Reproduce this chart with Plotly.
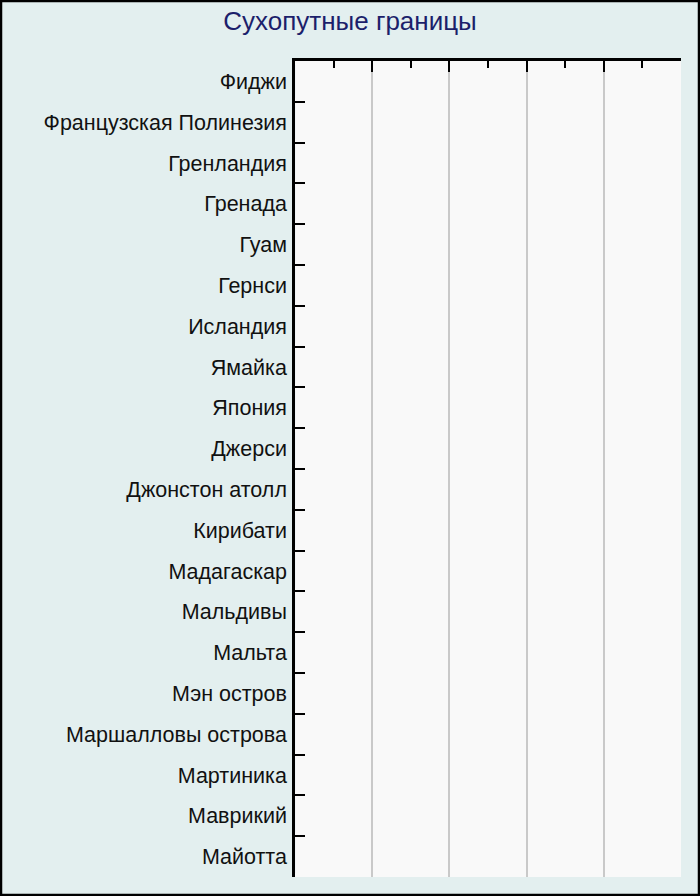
import plotly.graph_objects as go

# Сухопутные границы (км) - у островных государств и территорий их нет
countries = [
    "Фиджи", "Французская Полинезия", "Гренландия", "Гренада", "Гуам",
    "Гернси", "Исландия", "Ямайка", "Япония", "Джерси",
    "Джонстон атолл", "Кирибати", "Мадагаскар", "Мальдивы", "Мальта",
    "Мэн остров", "Маршалловы острова", "Мартиника", "Маврикий", "Майотта",
]
land_borders_km = [0, 0, 0, 0, 0, 0, 0, 0, 0, 0,
                   0, 0, 0, 0, 0, 0, 0, 0, 0, 0]

W, H = 700, 896
L, R, T, B = 295, 19, 61, 19
pw, ph = W - L - R, H - T - B

fig = go.Figure()
fig.add_trace(go.Bar(
    x=land_borders_km,
    y=countries,
    orientation="h",
    marker_color="#3a5fcd",
    hoverinfo="x+y",
))

fig.update_layout(
    width=W,
    height=H,
    margin=dict(l=L, r=R, t=T, b=B),
    paper_bgcolor="#e3efef",
    plot_bgcolor="#f9f9f9",
    showlegend=False,
    title=dict(
        text="Сухопутные границы",
        x=0.5,
        xanchor="center",
        y=1 - 21 / H,
        yanchor="middle",
        font=dict(family="Liberation Sans, Arial", size=26, color="#1c1f6b"),
    ),
    font=dict(family="Liberation Sans, Arial", size=21.5, color="#111111"),
)

fig.update_xaxes(
    range=[0, 5],
    dtick=1,
    side="top",
    showticklabels=False,
    showgrid=True,
    gridcolor="#c9c9c9",
    gridwidth=1.5,
    zeroline=False,
    showline=True,
    linecolor="black",
    linewidth=2.5,
    ticks="inside",
    ticklen=11,
    tickwidth=2,
    tickcolor="black",
    minor=dict(dtick=0.5, ticks="inside", ticklen=7, tickwidth=2,
               tickcolor="black", showgrid=False),
    fixedrange=True,
)

fig.update_yaxes(
    autorange="reversed",
    tickson="boundaries",
    ticks="inside",
    ticklen=10,
    tickwidth=2,
    tickcolor="black",
    showline=True,
    linecolor="black",
    linewidth=2.5,
    showgrid=False,
    ticklabelstandoff=1,
    fixedrange=True,
)

# чёрная рамка вокруг всего рисунка
fig.add_shape(
    type="rect",
    xref="paper", yref="paper",
    x0=-(L - 1) / pw, x1=(pw + R - 1) / pw,
    y0=-(B - 1) / ph, y1=(ph + T - 1) / ph,
    line=dict(color="black", width=2.5),
    fillcolor="rgba(0,0,0,0)",
    layer="above",
)

fig.write_html("out.html", config={"displayModeBar": False},
               post_script="document.body.style.margin='0';")
